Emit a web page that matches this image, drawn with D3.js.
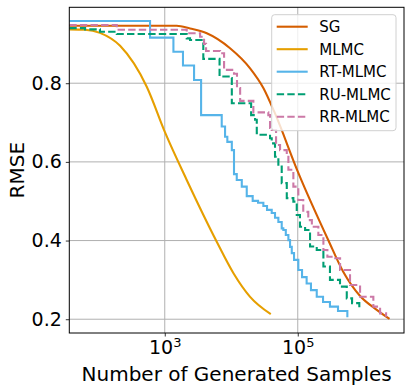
<!DOCTYPE html>
<html>
<head>
<meta charset="utf-8">
<script src="https://cdn.jsdelivr.net/npm/d3@7/dist/d3.min.js"></script>
<style>
	body { margin: 0; background: #fff; }
	text { font-family: "DejaVu Sans", sans-serif; fill: #000; }
</style>
</head>
<body>
<script>

// Series: number of generated samples and RMSE
var sgSamples   = [36.7, 1.51e3, 2.40e3, 4.29e3, 9.59e3, 1.92e4, 3.04e4, 4.45e4, 1.02e5, 2.86e5, 4.85e5, 8.65e5, 1.54e6, 2.40e6];
var sgRmse      = [0.946, 0.946, 0.939, 0.927, 0.889, 0.838, 0.788, 0.727, 0.572, 0.402, 0.320, 0.259, 0.224, 0.201];

var mlmcSamples = [36.7, 63.4, 106, 213, 536, 1.01e3, 2.14e3, 6.05e3, 1.08e4, 1.92e4, 3.93e4];
var mlmcRmse    = [0.937, 0.936, 0.928, 0.895, 0.791, 0.675, 0.554, 0.397, 0.317, 0.257, 0.213];

var rtSamples   = [36.7, 601, 1.35e3, 1.88e3, 2.76e3, 3.52e3, 7.19e3, 8.07e3, 8.73e3, 1.02e4, 1.10e4, 1.21e4, 1.44e4, 1.71e4,
                   2.10e4, 2.53e4, 3.04e4, 3.45e4, 4.06e4, 4.55e4, 5.11e4, 5.74e4, 6.07e4, 6.61e4, 7.23e4, 7.66e4, 8.13e4, 8.79e4,
                   1.02e5, 1.16e5, 1.36e5, 1.58e5, 1.93e5, 2.40e5, 3.05e5, 4.03e5, 5.57e5];
var rtRmse      = [0.958, 0.916, 0.880, 0.845, 0.808, 0.719, 0.690, 0.664, 0.651, 0.630, 0.569, 0.554, 0.537, 0.513,
                   0.501, 0.496, 0.488, 0.478, 0.470, 0.458, 0.447, 0.431, 0.427, 0.414, 0.401, 0.384, 0.368, 0.351,
                   0.325, 0.307, 0.291, 0.274, 0.257, 0.244, 0.232, 0.221, 0.205];

var ruSamples   = [36.7, 63.4, 106, 190, 2.14e3, 2.40e3, 3.80e3, 6.67e3, 9.59e3, 1.02e4, 1.99e4, 2.28e4, 2.42e4, 2.56e4,
                   3.83e4, 4.06e4, 4.55e4, 5.11e4, 5.74e4, 6.84e4, 8.59e4, 9.66e4, 1.08e5, 1.29e5, 1.53e5, 1.93e5,
                   2.43e5, 3.05e5, 4.32e5, 5.46e5, 6.56e5, 8.43e5];
var ruRmse      = [0.940, 0.937, 0.931, 0.925, 0.914, 0.910, 0.862, 0.817, 0.813, 0.749, 0.719, 0.707, 0.673, 0.669,
                   0.660, 0.647, 0.613, 0.588, 0.546, 0.508, 0.499, 0.465, 0.435, 0.427, 0.385, 0.376,
                   0.334, 0.300, 0.283, 0.253, 0.241, 0.228];

var rrSamples   = [36.7, 190, 2.14e3, 3.40e3, 3.90e3, 4.18e3, 6.79e3, 7.80e3, 1.10e4, 1.22e4, 1.36e4, 2.15e4, 3.61e4, 3.83e4,
                   4.06e4, 4.72e4, 5.42e4, 6.84e4, 7.23e4, 8.59e4, 1.02e5, 1.21e5, 1.44e5, 1.63e5, 2.04e5, 2.43e5,
                   2.79e5, 3.43e5, 4.33e5, 6.11e5, 8.65e5, 1.37e6, 1.73e6, 2.13e6];
var rrRmse      = [0.948, 0.936, 0.927, 0.918, 0.900, 0.882, 0.876, 0.834, 0.824, 0.788, 0.755, 0.726, 0.719, 0.686,
                   0.681, 0.643, 0.630, 0.618, 0.580, 0.537, 0.503, 0.473, 0.452, 0.435, 0.414, 0.376,
                   0.359, 0.355, 0.325, 0.287, 0.257, 0.232, 0.215, 0.206];

var seriesNames = ["SG", "MLMC", "RT-MLMC", "RU-MLMC", "RR-MLMC"];
var xTicks = [1e3, 1e5];
var yTicks = [0.2, 0.4, 0.6, 0.8];

// Size of the picture and of the plot area
var width = 411, height = 392;
var margin = {top: 7.3, right: 7, bottom: 59, left: 69.3};

var colors = ["#D55E00", "#E69F00", "#56B4E9", "#009E73", "#CC79A7"];
var dashes = [null, null, null, "7.4,3.2", "7.4,3.2"];

var series = [
	{name: seriesNames[0], x: sgSamples,   y: sgRmse,   curve: d3.curveMonotoneX},
	{name: seriesNames[1], x: mlmcSamples, y: mlmcRmse, curve: d3.curveMonotoneX},
	{name: seriesNames[2], x: rtSamples,   y: rtRmse,   curve: d3.curveStepAfter},
	{name: seriesNames[3], x: ruSamples,   y: ruRmse,   curve: d3.curveStepAfter},
	{name: seriesNames[4], x: rrSamples,   y: rrRmse,   curve: d3.curveStepAfter}
];

var svg = d3.select("body")
	.append("svg")
	.attr("width", width)
	.attr("height", height);

var x = d3.scaleLog()
	.domain([36.7, 3.96e6])
	.range([margin.left, width - margin.right]);

var y = d3.scaleLinear()
	.domain([0.165, 0.993])
	.range([height - margin.bottom, margin.top]);

// grid lines (below the curves)
var grid = svg.append("g").attr("class", "grid");
grid.selectAll("line.gx")
	.data(xTicks)
	.enter()
	.append("line")
	.attr("x1", function(d) { return x(d); })
	.attr("x2", function(d) { return x(d); })
	.attr("y1", margin.top)
	.attr("y2", height - margin.bottom)
	.style("stroke", "#b0b0b0")
	.style("stroke-width", 1);
grid.selectAll("line.gy")
	.data(yTicks)
	.enter()
	.append("line")
	.attr("x1", margin.left)
	.attr("x2", width - margin.right)
	.attr("y1", function(d) { return y(d); })
	.attr("y2", function(d) { return y(d); })
	.style("stroke", "#b0b0b0")
	.style("stroke-width", 1);

// curves
svg.append("defs").append("clipPath")
	.attr("id", "plotclip")
	.append("rect")
	.attr("x", margin.left)
	.attr("y", margin.top)
	.attr("width", width - margin.left - margin.right)
	.attr("height", height - margin.top - margin.bottom);

var plot = svg.append("g").attr("clip-path", "url(#plotclip)");

series.forEach(function(s, i) {
	var pts = s.x.map(function(v, k) { return [v, s.y[k]]; });
	var line = d3.line()
		.x(function(d) { return x(d[0]); })
		.y(function(d) { return y(d[1]); })
		.curve(s.curve);
	plot.append("path")
		.attr("d", line(pts))
		.style("fill", "none")
		.style("stroke", colors[i])
		.style("stroke-width", 2.1)
		.style("stroke-dasharray", dashes[i]);
});

// axes
var xAxis = svg.append("g")
	.attr("transform", "translate(0," + (height - margin.bottom) + ")")
	.call(d3.axisBottom(x).tickValues(xTicks).tickSize(3.5).tickPadding(4));

xAxis.selectAll(".tick text")
	.text(null)
	.style("font-size", "19px")
	.each(function(d) {
		var t = d3.select(this);
		t.append("tspan").text("10");
		t.append("tspan")
			.attr("dy", "-0.5em")
			.style("font-size", "13px")
			.text(Math.round(Math.log10(d)));
	});

var yAxis = svg.append("g")
	.attr("transform", "translate(" + margin.left + ",0)")
	.call(d3.axisLeft(y).tickValues(yTicks).tickSize(3.5).tickPadding(4).tickFormat(d3.format(".1f")));

yAxis.selectAll(".tick text").style("font-size", "19px");

svg.selectAll(".domain").remove();
svg.selectAll(".tick line").style("stroke", "#000").style("stroke-width", 0.8);
svg.selectAll(".tick text").style("fill", "#000").attr("font-family", null);

// frame
svg.append("rect")
	.attr("x", margin.left)
	.attr("y", margin.top)
	.attr("width", width - margin.left - margin.right)
	.attr("height", height - margin.top - margin.bottom)
	.style("fill", "none")
	.style("stroke", "#000")
	.style("stroke-width", 1);

// axis labels
svg.append("text")
	.attr("x", (margin.left + width - margin.right) / 2)
	.attr("y", 381)
	.attr("text-anchor", "middle")
	.style("font-size", "20px")
	.text("Number of Generated Samples");

svg.append("text")
	.attr("transform", "translate(24," + ((margin.top + height - margin.bottom) / 2) + ") rotate(-90)")
	.attr("text-anchor", "middle")
	.style("font-size", "20px")
	.text("RMSE");

// legend
var legend = svg.append("g").attr("transform", "translate(271.7,14.7)");

legend.append("rect")
	.attr("width", 124.3)
	.attr("height", 116)
	.attr("rx", 3)
	.style("fill", "#fff")
	.style("fill-opacity", 0.8)
	.style("stroke", "#d0d0d0")
	.style("stroke-width", 1);

var item = legend.selectAll("g.item")
	.data(seriesNames)
	.enter()
	.append("g")
	.attr("class", "item")
	.attr("transform", function(d, i) { return "translate(0," + (12 + i * 22.5) + ")"; });

item.append("line")
	.attr("x1", 5)
	.attr("x2", 36)
	.style("stroke", function(d, i) { return colors[i]; })
	.style("stroke-width", 2.1)
	.style("stroke-dasharray", function(d, i) { return dashes[i]; });

item.append("text")
	.attr("x", 47.6)
	.attr("dy", "0.36em")
	.style("font-size", "15px")
	.text(function(d) { return d; });

</script>
</body>
</html>
